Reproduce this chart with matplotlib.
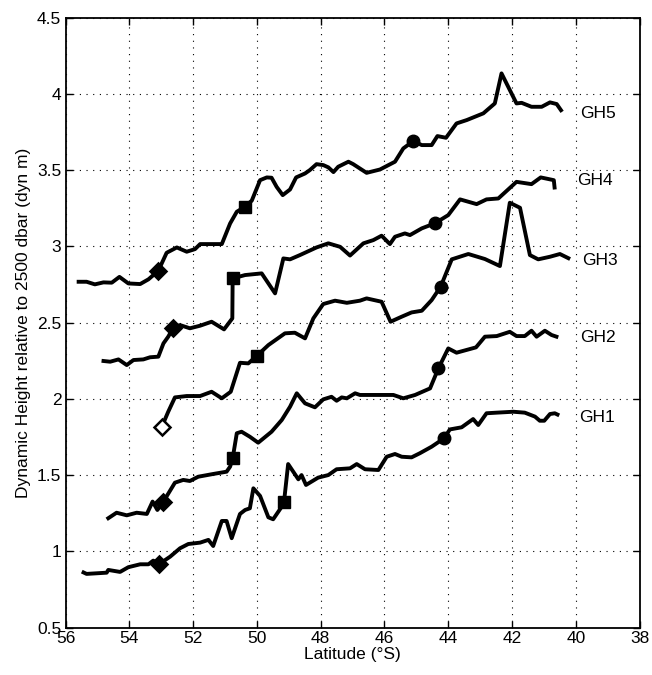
import matplotlib
matplotlib.use("Agg")
import matplotlib.pyplot as plt

plt.rcParams["font.family"] = ["Liberation Sans", "DejaVu Sans"]

# ---------------------------------------------------------------------------
# Data: latitude (deg S) and dynamic height (dyn m) per section
# ---------------------------------------------------------------------------

gh1_lat = [55.49, 55.34, 55.02, 54.71, 54.66, 54.29, 54.03, 53.66, 53.40, 53.25,
           53.06, 52.72, 52.41, 52.15, 51.78, 51.52, 51.37, 51.10, 50.95, 50.79,
           50.53, 50.37, 50.22, 50.11, 49.90, 49.64, 49.49, 49.22, 49.15, 49.02,
           48.70, 48.60, 48.46, 48.08, 47.76, 47.50, 47.08, 46.87, 46.61, 46.19,
           45.93, 45.67, 45.46, 45.15, 44.89, 44.52, 44.13, 43.95, 43.58, 43.22,
           43.06, 42.80, 42.48, 41.96, 41.60, 41.28, 41.13, 40.99, 40.81, 40.66,
           40.52]
gh1_val = [0.868, 0.853, 0.857, 0.861, 0.879, 0.866, 0.897, 0.916, 0.916, 0.940,
           0.918, 0.966, 1.021, 1.049, 1.058, 1.076, 1.036, 1.200, 1.200, 1.087,
           1.246, 1.272, 1.283, 1.414, 1.364, 1.224, 1.211, 1.294, 1.324, 1.573,
           1.473, 1.501, 1.436, 1.484, 1.501, 1.539, 1.545, 1.573, 1.539, 1.534,
           1.621, 1.639, 1.621, 1.617, 1.644, 1.687, 1.742, 1.800, 1.814, 1.868,
           1.829, 1.906, 1.910, 1.916, 1.910, 1.884, 1.857, 1.857, 1.901, 1.906,
           1.892]

gh2_lat = [54.71, 54.40, 54.08, 53.77, 53.45, 53.27, 53.12, 52.93, 52.57, 52.31,
           52.10, 51.84, 51.37, 50.95, 50.84, 50.76, 50.63, 50.48, 50.22, 49.96,
           49.54, 49.22, 48.96, 48.75, 48.49, 48.18, 47.92, 47.66, 47.50, 47.34,
           47.18, 46.92, 46.77, 46.56, 45.72, 45.41, 45.04, 44.57, 44.31, 44.00,
           43.74, 43.13, 42.85, 42.48, 42.07, 41.86, 41.60, 41.39, 41.23, 40.97,
           40.76, 40.55]
gh2_val = [1.211, 1.254, 1.237, 1.254, 1.246, 1.327, 1.272, 1.327, 1.451, 1.469,
           1.462, 1.490, 1.508, 1.523, 1.556, 1.610, 1.775, 1.785, 1.752, 1.713,
           1.785, 1.862, 1.949, 2.037, 1.971, 1.945, 1.997, 2.014, 1.988, 2.010,
           2.004, 2.037, 2.026, 2.026, 2.026, 2.004, 2.026, 2.069, 2.200, 2.331,
           2.303, 2.338, 2.408, 2.412, 2.440, 2.412, 2.412, 2.447, 2.408, 2.447,
           2.419, 2.404]

gh3_lat = [52.98, 52.78, 52.57, 52.20, 51.78, 51.42, 51.10, 50.82, 50.53, 50.27,
           50.01, 49.64, 49.12, 48.81, 48.49, 48.23, 47.92, 47.55, 47.18, 46.77,
           46.56, 46.09, 45.81, 45.46, 45.15, 44.83, 44.52, 44.24, 43.89, 43.37,
           42.85, 42.38, 42.07, 41.75, 41.44, 41.18, 40.81, 40.50, 40.18]
gh3_val = [1.818, 1.916, 2.010, 2.019, 2.019, 2.047, 2.004, 2.047, 2.237, 2.233,
           2.281, 2.353, 2.430, 2.434, 2.397, 2.528, 2.622, 2.644, 2.630, 2.644,
           2.659, 2.637, 2.506, 2.539, 2.567, 2.578, 2.648, 2.735, 2.915, 2.950,
           2.917, 2.871, 3.286, 3.253, 2.943, 2.915, 2.932, 2.950, 2.917]

gh4_lat = [54.87, 54.60, 54.34, 54.08, 53.87, 53.56, 53.35, 53.09, 52.93, 52.78,
           52.62, 52.41, 52.10, 51.78, 51.42, 51.03, 50.77, 50.76, 50.37, 49.85,
           49.43, 49.17, 48.96, 48.65, 48.13, 47.76, 47.39, 47.08, 46.66, 46.35,
           46.09, 45.83, 45.67, 45.36, 45.20, 44.83, 44.42, 44.00, 43.63, 43.11,
           42.80, 42.43, 41.86, 41.39, 41.10, 40.69, 40.66]
gh4_val = [2.250, 2.244, 2.259, 2.222, 2.255, 2.259, 2.273, 2.277, 2.364, 2.408,
           2.467, 2.484, 2.463, 2.480, 2.506, 2.456, 2.528, 2.790, 2.812, 2.823,
           2.692, 2.921, 2.915, 2.943, 2.993, 3.020, 2.997, 2.940, 3.020, 3.041,
           3.070, 3.015, 3.063, 3.085, 3.074, 3.118, 3.151, 3.205, 3.308, 3.277,
           3.308, 3.314, 3.423, 3.408, 3.452, 3.434, 3.373]

gh5_lat = [55.65, 55.34, 55.08, 54.81, 54.55, 54.31, 54.03, 53.66, 53.40, 53.09,
           52.83, 52.51, 52.20, 51.94, 51.78, 51.47, 51.10, 50.84, 50.63, 50.37,
           50.16, 49.90, 49.69, 49.54, 49.38, 49.19, 48.96, 48.77, 48.49, 48.34,
           48.13, 47.92, 47.76, 47.60, 47.45, 47.13, 46.98, 46.56, 46.14, 45.67,
           45.41, 45.10, 44.83, 44.52, 44.34, 44.07, 43.74, 43.42, 42.90, 42.54,
           42.33, 41.86, 41.70, 41.39, 41.07, 40.81, 40.60, 40.43]
gh5_val = [2.768, 2.768, 2.751, 2.764, 2.762, 2.800, 2.757, 2.753, 2.784, 2.840,
           2.958, 2.993, 2.965, 2.982, 3.015, 3.015, 3.015, 3.150, 3.227, 3.260,
           3.300, 3.434, 3.452, 3.450, 3.390, 3.336, 3.373, 3.452, 3.478, 3.500,
           3.539, 3.533, 3.518, 3.487, 3.522, 3.555, 3.539, 3.482, 3.504, 3.555,
           3.642, 3.690, 3.664, 3.664, 3.723, 3.712, 3.806, 3.828, 3.872, 3.937,
           4.134, 3.937, 3.941, 3.915, 3.915, 3.944, 3.933, 3.882]

names = ["GH1", "GH2", "GH3", "GH4", "GH5"]
label_lat = [39.90, 39.85, 39.80, 39.95, 39.85]
label_val = [1.875, 2.40, 2.91, 3.43, 3.87]

# marker positions: diamond, square, circle
diamond_lat = [53.06, 52.93, 52.98, 52.62, 53.09]
diamond_val = [0.918, 1.327, 1.818, 2.467, 2.840]
square_lat = [49.15, 50.76, 50.01, 50.76, 50.37]
square_val = [1.324, 1.610, 2.281, 2.790, 3.260]
circle_lat = [44.13, 44.31, 44.24, 44.42, 45.10]
circle_val = [1.742, 2.200, 2.735, 3.151, 3.690]

# ---------------------------------------------------------------------------
# Plot
# ---------------------------------------------------------------------------

fig = plt.figure(figsize=(6.52, 6.75), dpi=100)
ax = fig.add_axes([0.1005, 0.070, 0.8805, 0.904])

curves = [(gh1_lat, gh1_val), (gh2_lat, gh2_val), (gh3_lat, gh3_val),
          (gh4_lat, gh4_val), (gh5_lat, gh5_val)]

for i, (lat, val) in enumerate(curves):
    ax.plot(lat, val, color="black", linewidth=2.8, solid_joinstyle="round",
            solid_capstyle="butt", zorder=3)
    ax.text(label_lat[i], label_val[i], names[i], fontsize=12.5,
            ha="left", va="center")

    face = "white" if names[i] == "GH3" else "black"
    ax.plot(diamond_lat[i], diamond_val[i], marker="D", markersize=8,
            markerfacecolor=face, markeredgecolor="black",
            markeredgewidth=1.8, zorder=4)
    ax.plot(square_lat[i], square_val[i], marker="s", markersize=8.5,
            color="black", zorder=4)
    ax.plot(circle_lat[i], circle_val[i], marker="o", markersize=9,
            color="black", zorder=4)

ax.set_xlim(56, 38)
ax.set_ylim(0.5, 4.5)
ax.set_xticks(range(56, 37, -2))
ax.set_yticks([0.5, 1, 1.5, 2, 2.5, 3, 3.5, 4, 4.5])
ax.set_yticklabels(["0.5", "1", "1.5", "2", "2.5", "3", "3.5", "4", "4.5"])
ax.tick_params(direction="in", top=True, right=True, labelsize=12.5,
               length=5, width=1)
ax.tick_params(axis="x", pad=2)
ax.tick_params(axis="y", pad=3)
ax.grid(True, color="black", linestyle=(0, (1, 5)), linewidth=0.8)
for sp in ax.spines.values():
    sp.set_linewidth(1.3)

ax.set_xlabel("Latitude (°S)", fontsize=12.5, labelpad=1)
ax.set_ylabel("Dynamic Height relative to 2500 dbar (dyn m)", fontsize=12.5,
              labelpad=4)

fig.savefig("out.png", dpi=100)
